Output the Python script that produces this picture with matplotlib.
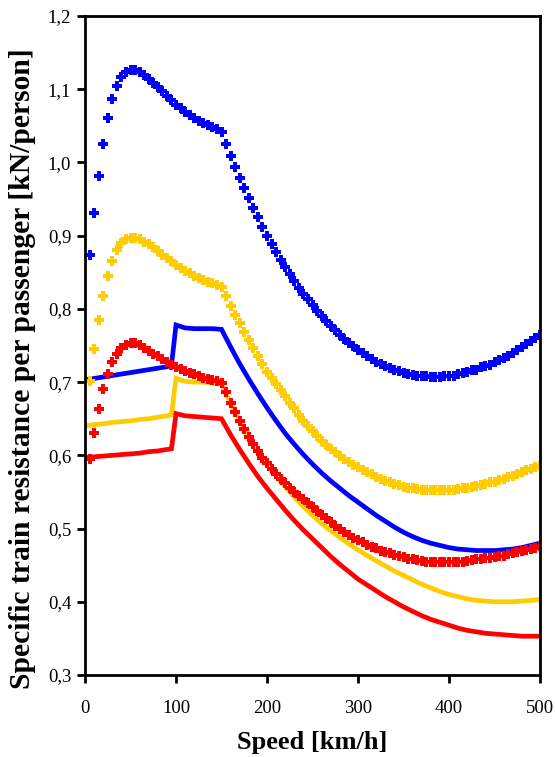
import matplotlib
matplotlib.use("Agg")
import matplotlib.pyplot as plt
from matplotlib.ticker import FuncFormatter

plt.rcParams['font.family'] = ['Liberation Serif', 'DejaVu Serif']

# speeds for the "+" series (every 5 km/h)
speed_pts = list(range(5, 505, 5))

blue_pts = [0.873, 0.931, 0.982, 1.025, 1.060, 1.086, 1.105, 1.116, 1.123, 1.126,
            1.126, 1.123, 1.119, 1.114, 1.108, 1.103, 1.097, 1.091, 1.085, 1.079,
            1.074, 1.069, 1.065, 1.061, 1.057, 1.054, 1.051, 1.048, 1.045, 1.042,
            1.025, 1.009, 0.994, 0.979, 0.965, 0.951, 0.938, 0.925, 0.912, 0.900,
            0.889, 0.877, 0.867, 0.857, 0.847, 0.838, 0.829, 0.821, 0.813, 0.805,
            0.797, 0.790, 0.783, 0.777, 0.771, 0.765, 0.759, 0.754, 0.749, 0.744,
            0.740, 0.736, 0.732, 0.728, 0.725, 0.722, 0.719, 0.717, 0.715, 0.713,
            0.711, 0.710, 0.709, 0.708, 0.708, 0.7075, 0.7075, 0.7075, 0.708, 0.708,
            0.709, 0.711, 0.712, 0.714, 0.716, 0.717, 0.720, 0.722, 0.724, 0.727,
            0.730, 0.733, 0.736, 0.740, 0.744, 0.748, 0.752, 0.756, 0.760, 0.764]

gold_pts = [0.702, 0.745, 0.785, 0.818, 0.845, 0.866, 0.881, 0.890, 0.895, 0.897,
            0.897, 0.895, 0.892, 0.888, 0.884, 0.879, 0.874, 0.869, 0.865, 0.860,
            0.856, 0.852, 0.849, 0.845, 0.842, 0.840, 0.837, 0.835, 0.832, 0.830,
            0.817, 0.804, 0.792, 0.781, 0.769, 0.758, 0.747, 0.736, 0.725, 0.714,
            0.705, 0.697, 0.689, 0.681, 0.672, 0.664, 0.655, 0.647, 0.640, 0.633,
            0.626, 0.620, 0.614, 0.609, 0.604, 0.599, 0.595, 0.591, 0.587, 0.584,
            0.580, 0.577, 0.574, 0.571, 0.568, 0.565, 0.563, 0.561, 0.559, 0.557,
            0.556, 0.555, 0.554, 0.553, 0.553, 0.552, 0.552, 0.552, 0.552, 0.553,
            0.553, 0.554, 0.555, 0.556, 0.557, 0.558, 0.560, 0.561, 0.563, 0.564,
            0.566, 0.568, 0.570, 0.572, 0.575, 0.577, 0.580, 0.582, 0.584, 0.586]

red_pts = [0.595, 0.630, 0.663, 0.690, 0.711, 0.727, 0.739, 0.747, 0.751, 0.753,
           0.753, 0.750, 0.747, 0.743, 0.739, 0.735, 0.731, 0.728, 0.724, 0.721,
           0.718, 0.715, 0.713, 0.711, 0.708, 0.706, 0.704, 0.703, 0.701, 0.699,
           0.686, 0.672, 0.659, 0.647, 0.636, 0.625, 0.615, 0.606, 0.597, 0.589,
           0.582, 0.575, 0.568, 0.562, 0.556, 0.550, 0.545, 0.540, 0.535, 0.529,
           0.524, 0.519, 0.514, 0.509, 0.504, 0.500, 0.495, 0.491, 0.487, 0.484,
           0.481, 0.478, 0.475, 0.473, 0.470, 0.468, 0.466, 0.464, 0.462, 0.461,
           0.459, 0.458, 0.457, 0.456, 0.455, 0.455, 0.454, 0.454, 0.454, 0.454,
           0.454, 0.455, 0.455, 0.456, 0.457, 0.458, 0.459, 0.460, 0.460, 0.461,
           0.462, 0.463, 0.465, 0.466, 0.468, 0.469, 0.471, 0.472, 0.474, 0.476]

# speeds for the solid lines
speed_line = [0, 10, 20, 30, 40, 50, 60, 70, 80, 90, 95, 100, 110, 120, 130, 140, 150,
              160, 170, 180, 190, 200, 210, 220, 230, 240, 250, 260, 270, 280, 290, 300,
              310, 320, 330, 340, 350, 360, 370, 380, 390, 400, 410, 420, 430, 440, 450,
              460, 470, 480, 490, 500]

blue_line = [0.703, 0.705, 0.707, 0.709, 0.711, 0.713, 0.715, 0.717, 0.719, 0.721, 0.723,
             0.778, 0.774, 0.773, 0.773, 0.773, 0.772,
             0.748, 0.725, 0.704, 0.684, 0.665, 0.647, 0.630, 0.615, 0.601, 0.588,
             0.576, 0.565, 0.555, 0.545, 0.536, 0.527, 0.518, 0.510, 0.502, 0.495,
             0.489, 0.484, 0.480, 0.477, 0.474, 0.472, 0.471, 0.470, 0.470, 0.470,
             0.471, 0.472, 0.474, 0.477, 0.480]

gold_line = [0.640, 0.642, 0.643, 0.645, 0.646, 0.647, 0.649, 0.650, 0.652, 0.654, 0.655,
             0.705, 0.701, 0.700, 0.700, 0.699, 0.697,
             0.671, 0.647, 0.625, 0.605, 0.588, 0.572, 0.557, 0.543, 0.530, 0.518,
             0.507, 0.497, 0.488, 0.479, 0.471, 0.463, 0.456, 0.449, 0.442, 0.436,
             0.430, 0.424, 0.419, 0.414, 0.410, 0.407, 0.404, 0.402, 0.401, 0.400,
             0.400, 0.400, 0.401, 0.402, 0.403]

red_line = [0.597, 0.598, 0.599, 0.600, 0.601, 0.602, 0.603, 0.605, 0.606, 0.608, 0.609,
            0.657, 0.654, 0.653, 0.652, 0.651, 0.650,
            0.628, 0.608, 0.589, 0.571, 0.555, 0.540, 0.525, 0.511, 0.498, 0.486,
            0.474, 0.462, 0.451, 0.441, 0.431, 0.423, 0.415, 0.407, 0.400, 0.393,
            0.387, 0.381, 0.376, 0.372, 0.368, 0.364, 0.361, 0.359, 0.357, 0.356,
            0.355, 0.354, 0.353, 0.353, 0.353]

colors = {'blue': '#0000FF', 'gold': '#FFCC00', 'red': '#FF0000'}

fig = plt.figure(figsize=(5.55, 7.57), dpi=100)
ax = fig.add_axes([0.1532, 0.1083, 0.8198, 0.8706])

# solid lines
ax.plot(speed_line, blue_line, color=colors['blue'], lw=3.4, solid_joinstyle='miter')
ax.plot(speed_line, gold_line, color=colors['gold'], lw=3.4, solid_joinstyle='miter')
ax.plot(speed_line, red_line, color=colors['red'], lw=3.4, solid_joinstyle='miter')

# plus markers
for vals, c in [(blue_pts, 'blue'), (gold_pts, 'gold'), (red_pts, 'red')]:
    ax.plot(speed_pts, vals, ls='none', marker='P', ms=6.9, mew=0,
            color=colors[c])

ax.set_xlim(0, 500)
ax.set_ylim(0.3, 1.2)
ax.set_xticks([0, 100, 200, 300, 400, 500])
ax.set_yticks([0.3, 0.4, 0.5, 0.6, 0.7, 0.8, 0.9, 1.0, 1.1, 1.2])
ax.yaxis.set_major_formatter(FuncFormatter(lambda v, p: ('%.1f' % v).replace('.', ',')))

for s in ax.spines.values():
    s.set_linewidth(2)
ax.tick_params(axis='both', direction='out', length=6, width=2, labelsize=13.5)
ax.tick_params(axis='x', pad=12)
ax.tick_params(axis='y', pad=4)

ax.set_xlabel('Speed [km/h]', fontsize=19, fontweight='bold', labelpad=10)
ax.set_ylabel('Specific train resistance per passenger [kN/person]', fontsize=21.3,
              fontweight='bold')
ax.yaxis.set_label_coords(-0.108, 0.465)

fig.savefig('out.png', dpi=100)
